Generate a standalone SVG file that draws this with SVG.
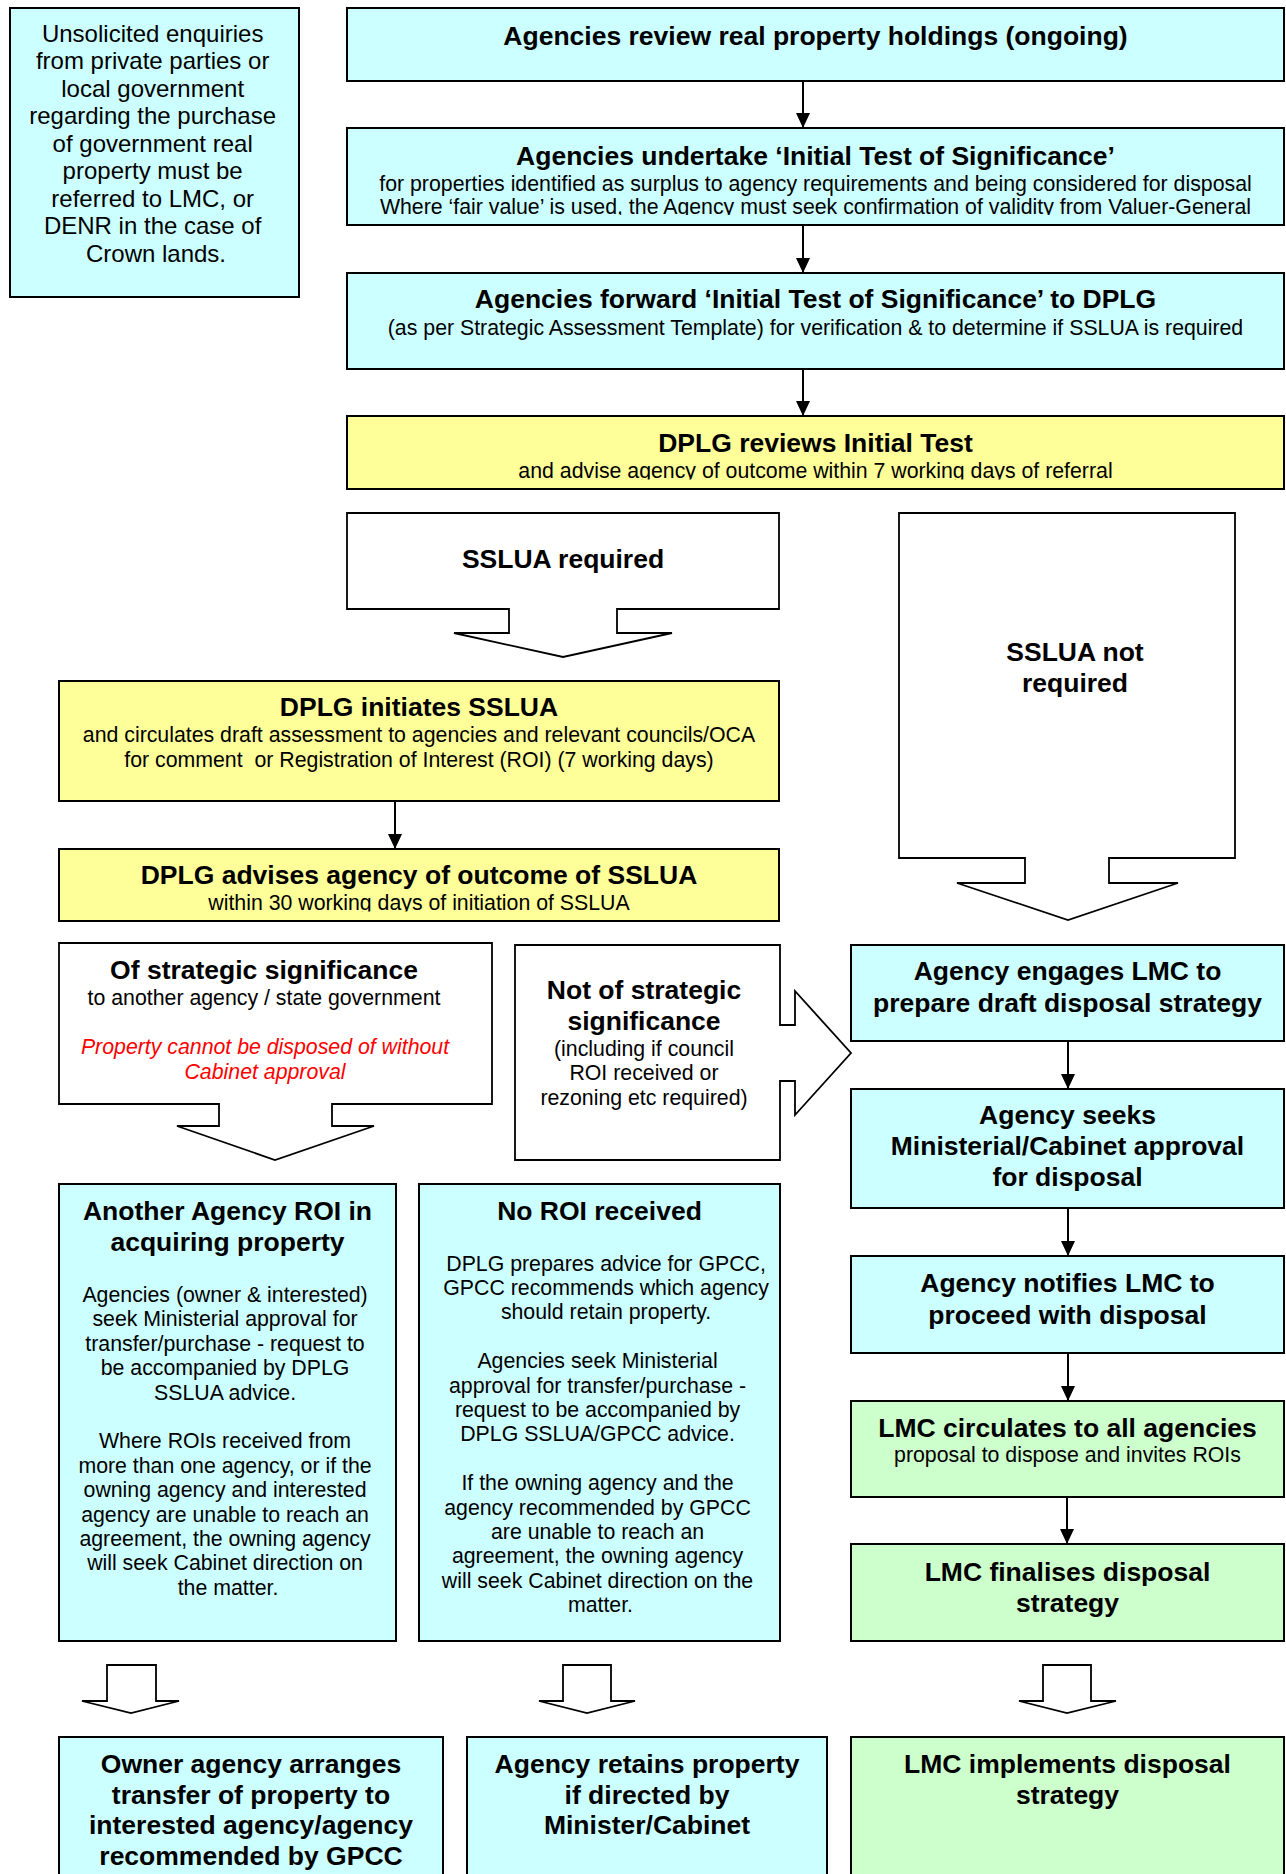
<svg xmlns="http://www.w3.org/2000/svg" width="1286" height="1874" viewBox="0 0 1286 1874">
<defs>
<style>
.c{fill:#CCFFFF;stroke:#000;stroke-width:2}
.y{fill:#FFFF99;stroke:#000;stroke-width:2}
.g{fill:#CCFFCC;stroke:#000;stroke-width:2}
.w{fill:#FFFFFF;stroke:#000;stroke-width:1.8;stroke-linejoin:miter}
text{font-family:"Liberation Sans",Arial,Helvetica,sans-serif;text-anchor:middle;fill:#000}
.h{font-size:26.5px;font-weight:bold}
.b{font-size:21.3px}
.l{font-size:24px}
.r{fill:#FF0000;font-style:italic}
.ln{stroke:#000;stroke-width:2;fill:none;marker-end:url(#ah)}
</style>
<marker id="ah" viewBox="0 0 15 14" refX="15" refY="7" markerWidth="15" markerHeight="14" markerUnits="userSpaceOnUse" orient="auto">
<path d="M0,0 L15,7 L0,14 Z" fill="#000"/>
</marker>
<clipPath id="clip2"><rect x="347" y="128" width="937" height="87"/></clipPath>
<clipPath id="clip4"><rect x="347" y="416" width="937" height="63.5"/></clipPath>
<clipPath id="clip6"><rect x="59" y="849" width="720" height="62.5"/></clipPath>
</defs>
<rect x="0" y="0" width="1286" height="1874" fill="#FFFFFF"/>

<g id="connectors">
<line class="ln" x1="803" y1="81" x2="803" y2="128"/>
<line class="ln" x1="803" y1="225" x2="803" y2="273"/>
<line class="ln" x1="803" y1="369" x2="803" y2="416"/>
<line class="ln" x1="395" y1="801" x2="395" y2="849"/>
<line class="ln" x1="1068" y1="1041" x2="1068" y2="1089"/>
<line class="ln" x1="1068" y1="1208" x2="1068" y2="1256"/>
<line class="ln" x1="1068" y1="1353" x2="1068" y2="1401"/>
<line class="ln" x1="1067" y1="1497" x2="1067" y2="1544"/>
<path id="arrow-left" class="w" d="M107,1665 H156 V1701 H179 L131,1713 L82,1701 H107 Z"/>
<path id="arrow-mid" class="w" d="M563,1665 H611 V1701 H635 L587,1713 L539,1701 H563 Z"/>
<path id="arrow-right" class="w" d="M1043,1665 H1091 V1701 H1116 L1067,1713 L1019,1701 H1043 Z"/>
</g>

<g id="unsolicited">
<rect class="c" x="10" y="8" width="289" height="289"/>
<text class="l">
<tspan x="156" y="41.5">Unsolicited enquiries</tspan>
<tspan x="156" y="69">from private parties or</tspan>
<tspan x="156" y="96.5">local government</tspan>
<tspan x="156" y="124">regarding the purchase</tspan>
<tspan x="156" y="151.5">of government real</tspan>
<tspan x="156" y="179">property must be</tspan>
<tspan x="156" y="206.5">referred to LMC, or</tspan>
<tspan x="156" y="234">DENR in the case of</tspan>
<tspan x="156" y="261.5">Crown lands.</tspan>
</text>
</g>

<g id="review">
<rect class="c" x="347" y="8" width="937" height="73"/>
<text class="h" x="815.5" y="44.5">Agencies review real property holdings (ongoing)</text>
</g>

<g id="initial-test">
<rect class="c" x="347" y="128" width="937" height="97"/>
<g clip-path="url(#clip2)">
<text class="h" x="815.5" y="164.5">Agencies undertake ‘Initial Test of Significance’</text>
<text class="b" x="815.5" y="190.5">for properties identified as surplus to agency requirements and being considered for disposal</text>
<text class="b" x="815.5" y="213.5">Where ‘fair value’ is used, the Agency must seek confirmation of validity from Valuer-General</text>
</g>
</g>

<g id="forward">
<rect class="c" x="347" y="273" width="937" height="96"/>
<text class="h" x="815.5" y="308">Agencies forward ‘Initial Test of Significance’ to DPLG</text>
<text class="b" x="815.5" y="334.5">(as per Strategic Assessment Template) for verification &amp; to determine if SSLUA is required</text>
</g>

<g id="dplg-reviews">
<rect class="y" x="347" y="416" width="937" height="73"/>
<g clip-path="url(#clip4)">
<text class="h" x="815.5" y="452">DPLG reviews Initial Test</text>
<text class="b" x="815.5" y="478">and advise agency of outcome within 7 working days of referral</text>
</g>
</g>

<g id="sslua-required">
<path class="w" d="M347,513 H779 V609 H617 V633 H672 L563,657 L454,633 H509 V609 H347 Z"/>
<text class="h" x="563" y="567.5">SSLUA required</text>
</g>

<g id="sslua-not-required">
<path class="w" d="M899,513 H1235 V858 H1109 V883 H1178 L1068,920 L957,883 H1025 V858 H899 Z"/>
<text class="h"><tspan x="1075" y="661">SSLUA not</tspan><tspan x="1075" y="692">required</tspan></text>
</g>

<g id="dplg-initiates">
<rect class="y" x="59" y="681" width="720" height="120"/>
<text class="h" x="419" y="716">DPLG initiates SSLUA</text>
<text class="b" x="419" y="742">and circulates draft assessment to agencies and relevant councils/OCA</text>
<text class="b" x="419" y="767" xml:space="preserve" style="white-space:pre">for comment  or Registration of Interest (ROI) (7 working days)</text>
</g>

<g id="dplg-advises">
<rect class="y" x="59" y="849" width="720" height="72"/>
<g clip-path="url(#clip6)">
<text class="h" x="419" y="883.5">DPLG advises agency of outcome of SSLUA</text>
<text class="b" x="419" y="910">within 30 working days of initiation of SSLUA</text>
</g>
</g>

<g id="strategic">
<path class="w" d="M59,943 H492 V1104 H332 V1126 H374 L275,1160 L177,1126 H219 V1104 H59 Z"/>
<text class="h" x="264" y="978.5">Of strategic significance</text>
<text class="b" x="264" y="1005">to another agency / state government</text>
<text class="b r"><tspan x="265" y="1054">Property cannot be disposed of without</tspan><tspan x="265" y="1079">Cabinet approval</tspan></text>
</g>

<g id="not-strategic">
<path class="w" d="M515,945 H780 V1025 H795 V991 L851,1053 L795,1115 V1081 H780 V1160 H515 Z"/>
<text class="h"><tspan x="644" y="999">Not of strategic</tspan><tspan x="644" y="1030">significance</tspan></text>
<text class="b"><tspan x="644" y="1055.5">(including if council</tspan><tspan x="644" y="1080">ROI received or</tspan><tspan x="644" y="1104.5">rezoning etc required)</tspan></text>
</g>

<g id="engages-lmc">
<rect class="c" x="851" y="945" width="433" height="96"/>
<text class="h"><tspan x="1067.5" y="980">Agency engages LMC to</tspan><tspan x="1067.5" y="1012">prepare draft disposal strategy</tspan></text>
</g>

<g id="seeks-approval">
<rect class="c" x="851" y="1089" width="433" height="119"/>
<text class="h"><tspan x="1067.5" y="1124">Agency seeks</tspan><tspan x="1067.5" y="1155">Ministerial/Cabinet approval</tspan><tspan x="1067.5" y="1186">for disposal</tspan></text>
</g>

<g id="notifies-lmc">
<rect class="c" x="851" y="1256" width="433" height="97"/>
<text class="h"><tspan x="1067.5" y="1291.5">Agency notifies LMC to</tspan><tspan x="1067.5" y="1323.5">proceed with disposal</tspan></text>
</g>

<g id="lmc-circulates">
<rect class="g" x="851" y="1401" width="433" height="96"/>
<text class="h" x="1067.5" y="1437">LMC circulates to all agencies</text>
<text class="b" x="1067.5" y="1462">proposal to dispose and invites ROIs</text>
</g>

<g id="lmc-finalises">
<rect class="g" x="851" y="1544" width="433" height="97"/>
<text class="h"><tspan x="1067.5" y="1581">LMC finalises disposal</tspan><tspan x="1067.5" y="1612">strategy</tspan></text>
</g>

<g id="another-agency-roi">
<rect class="c" x="59" y="1184" width="337" height="457"/>
<text class="h"><tspan x="227.5" y="1220">Another Agency ROI in</tspan><tspan x="227.5" y="1251">acquiring property</tspan></text>
<text class="b">
<tspan x="228" y="1302">Agencies (owner &amp; interested)</tspan>
<tspan x="228" y="1326.4">seek Ministerial approval for</tspan>
<tspan x="228" y="1350.8">transfer/purchase - request to</tspan>
<tspan x="228" y="1375.2">be accompanied by DPLG</tspan>
<tspan x="228" y="1399.6">SSLUA advice.</tspan>
<tspan x="228" y="1448.4">Where ROIs received from</tspan>
<tspan x="228" y="1472.8">more than one agency, or if the</tspan>
<tspan x="228" y="1497.2">owning agency and interested</tspan>
<tspan x="228" y="1521.6">agency are unable to reach an</tspan>
<tspan x="228" y="1546">agreement, the owning agency</tspan>
<tspan x="228" y="1570.4">will seek Cabinet direction on</tspan>
<tspan x="228" y="1594.8">the matter.</tspan>
</text>
</g>

<g id="no-roi">
<rect class="c" x="419" y="1184" width="361" height="457"/>
<text class="h" x="599.5" y="1220">No ROI received</text>
<text class="b">
<tspan x="609" y="1270.5">DPLG prepares advice for GPCC,</tspan>
<tspan x="609" y="1294.9">GPCC recommends which agency</tspan>
<tspan x="609" y="1319.3">should retain property.</tspan>
<tspan x="600.5" y="1368.1">Agencies seek Ministerial</tspan>
<tspan x="600.5" y="1392.5">approval for transfer/purchase -</tspan>
<tspan x="600.5" y="1416.9">request to be accompanied by</tspan>
<tspan x="600.5" y="1441.3">DPLG SSLUA/GPCC advice.</tspan>
<tspan x="600.5" y="1490.1">If the owning agency and the</tspan>
<tspan x="600.5" y="1514.5">agency recommended by GPCC</tspan>
<tspan x="600.5" y="1538.9">are unable to reach an</tspan>
<tspan x="600.5" y="1563.3">agreement, the owning agency</tspan>
<tspan x="600.5" y="1587.7">will seek Cabinet direction on the</tspan>
<tspan x="600.5" y="1612.1">matter.</tspan>
</text>
</g>

<g id="owner-transfer">
<rect class="c" x="59" y="1737" width="384" height="150"/>
<text class="h"><tspan x="251" y="1773">Owner agency arranges</tspan><tspan x="251" y="1803.5">transfer of property to</tspan><tspan x="251" y="1834">interested agency/agency</tspan><tspan x="251" y="1864.5">recommended by GPCC</tspan></text>
</g>

<g id="agency-retains">
<rect class="c" x="467" y="1737" width="360" height="150"/>
<text class="h"><tspan x="647" y="1773">Agency retains property</tspan><tspan x="647" y="1803.5">if directed by</tspan><tspan x="647" y="1834">Minister/Cabinet</tspan></text>
</g>

<g id="lmc-implements">
<rect class="g" x="851" y="1737" width="433" height="150"/>
<text class="h"><tspan x="1067.5" y="1773">LMC implements disposal</tspan><tspan x="1067.5" y="1803.5">strategy</tspan></text>
</g>
</svg>
